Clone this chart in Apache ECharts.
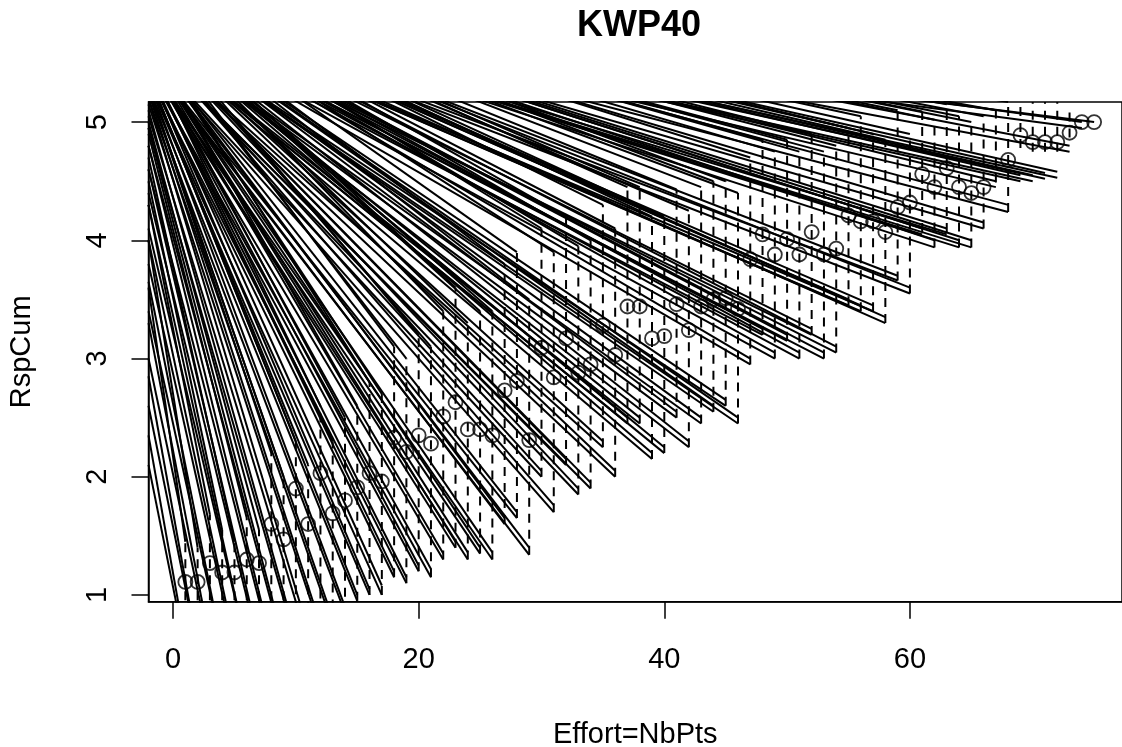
<!DOCTYPE html>
<html>
<head>
<meta charset="utf-8">
<title>KWP40</title>
<script src="https://cdn.jsdelivr.net/npm/echarts@6/dist/echarts.min.js"></script>
<style>
  html, body { margin: 0; padding: 0; background: #fff; }
  #chart { width: 1122px; height: 747px; }
</style>
</head>
<body>
<div id="chart"></div>
<script>
// observed points (Effort, RspCum)
const ptX = [1, 2, 3, 4, 5, 6, 7, 8, 9, 10, 11, 12, 13, 14, 15, 16, 17, 18, 19, 20,
  21, 22, 23, 24, 25, 26, 27, 28, 29, 30, 31, 32, 33, 34, 35, 36, 37, 38, 39, 40,
  41, 42, 43, 44, 45, 46, 47, 48, 49, 50, 51, 52, 53, 54, 55, 56, 57, 58, 59, 60,
  61, 62, 63, 64, 65, 66, 68, 69, 70, 71, 72, 73, 74, 75];
const ptY = [1.11, 1.11, 1.27, 1.19, 1.19, 1.30, 1.27, 1.60, 1.47, 1.90, 1.60, 2.03, 1.69, 1.80, 1.91, 2.03, 1.96, 2.33, 2.21, 2.35,
  2.28, 2.51, 2.63, 2.40, 2.40, 2.35, 2.73, 2.81, 2.31, 3.09, 2.84, 3.17, 2.88, 2.95, 3.28, 3.03, 3.44, 3.44, 3.17, 3.19,
  3.46, 3.24, 3.44, 3.50, 3.51, 3.42, 3.84, 4.05, 3.88, 4.01, 3.88, 4.07, 3.88, 3.93, 4.21, 4.16, 4.16, 4.07, 4.28, 4.32,
  4.56, 4.45, 4.61, 4.45, 4.40, 4.45, 4.68, 4.89, 4.83, 4.83, 4.83, 4.91, 5.00, 5.00];

// dashed vertical ranges
const dashX = [1, 2, 3, 4, 5, 6, 7, 8, 9, 10, 11, 12, 13, 14, 15, 16, 17, 18, 19, 20,
  21, 22, 23, 24, 25, 26, 27, 28, 29, 30, 31, 32, 33, 34, 35, 36, 37, 38, 39, 40,
  41, 42, 43, 44, 45, 46, 47, 48, 49, 50, 51, 52, 53, 54, 55, 56, 57, 58, 59, 60,
  61, 62, 63, 64, 65, 66, 67, 68, 69, 70, 71, 72, 73];
const dashLo = [0.55, 0.55, 0.55, 0.55, 0.55, 0.55, 0.55, 0.55, 0.55, 0.60, 0.60, 0.70, 0.75, 0.85, 0.95, 1.00, 1.00, 1.15, 1.10, 1.20,
  1.15, 1.30, 1.40, 1.30, 1.35, 1.30, 1.60, 1.65, 1.34, 2.00, 1.70, 2.10, 1.85, 1.90, 2.25, 2.00, 2.45, 2.45, 2.15, 2.20,
  2.50, 2.25, 2.45, 2.55, 2.60, 2.45, 2.95, 3.20, 3.00, 3.15, 3.00, 3.20, 3.00, 3.05, 3.45, 3.40, 3.40, 3.30, 3.66, 3.55,
  4.07, 3.94, 4.07, 3.94, 3.94, 4.10, 4.49, 4.24, 4.78, 4.75, 4.75, 4.75, 4.87];
const dashHi = [1.45, 1.40, 1.68, 1.55, 1.45, 1.65, 1.55, 2.20, 2.00, 2.30, 2.10, 2.60, 2.30, 2.50, 2.60, 2.80, 2.70, 3.10, 3.00, 3.20,
  3.10, 3.40, 3.60, 3.30, 3.40, 3.40, 3.80, 3.90, 3.50, 4.10, 3.90, 4.20, 3.95, 4.00, 4.30, 4.10, 4.45, 4.45, 4.20, 4.20,
  4.43, 4.25, 4.45, 4.50, 4.50, 4.40, 4.70, 4.85, 4.75, 4.85, 4.75, 4.90, 4.75, 4.80, 4.95, 5.05, 4.90, 4.85, 5.10, 4.90,
  5.09, 5.02, 5.15, 5.05, 5.00, 5.05, 5.13, 5.17, 5.17, 5.17, 5.17, 5.17, 5.10];

// solid lines: y at the left edge (x = -2) and end point (lineEndX, lineEndY)
const lineEndX = [
  1, 1, 1, 2, 2, 2, 3, 3, 3, 4, 4, 4, 5, 5, 5, 6, 6, 6, 7, 7, 7, 8, 8, 8, 9, 9, 9, 10, 10, 10,
  11, 11, 11, 12, 12, 12, 13, 13, 13, 14, 14, 14, 15, 15, 15, 16, 16, 16, 17, 17, 17, 18, 18, 18, 19, 19, 19, 20, 20, 20,
  21, 21, 21, 22, 22, 22, 23, 23, 23, 24, 24, 24, 25, 25, 25, 26, 26, 26, 27, 27, 27, 28, 28, 28, 29, 29, 29, 30, 30, 30,
  31, 31, 31, 32, 32, 32, 33, 33, 33, 34, 34, 34, 35, 35, 35, 36, 36, 36, 37, 37, 37, 38, 38, 38, 39, 39, 39, 40, 40, 40,
  41, 41, 41, 42, 42, 42, 43, 43, 43, 44, 44, 44, 45, 45, 45, 46, 46, 46, 47, 47, 47, 48, 48, 48, 49, 49, 49, 50, 50, 50,
  51, 51, 51, 52, 52, 52, 53, 53, 53, 54, 54, 54, 55, 55, 55, 56, 56, 56, 57, 57, 57, 58, 58, 58, 59, 59, 59, 60, 60, 60,
  61, 61, 61, 62, 62, 62, 63, 63, 63, 64, 64, 64, 65, 65, 65, 66, 66, 66, 67, 67, 67, 68, 68, 68,
  69, 69, 70, 70, 71, 71, 72, 72, 73, 73, 74, 74, 75
];
const lineEndY = [
  0.55, 0.60, 1.45, 0.55, 0.55, 1.40, 0.55, 0.60, 1.68, 0.55, 0.55, 1.55, 0.55, 0.60, 1.45, 0.55, 0.55, 1.65, 0.55, 0.60, 1.55, 0.55, 0.60, 2.20, 0.55, 0.60, 2.00, 0.60, 0.65, 2.30,
  0.60, 0.70, 2.10, 0.70, 0.75, 2.60, 0.75, 0.80, 2.30, 0.85, 0.90, 2.50, 0.95, 1.00, 2.60, 1.00, 1.05, 2.80, 1.00, 1.08, 2.70, 1.15, 1.20, 3.10, 1.10, 1.15, 3.00, 1.20, 1.25, 3.20,
  1.15, 1.22, 3.10, 1.30, 1.35, 3.40, 1.40, 1.45, 3.60, 1.30, 1.36, 3.30, 1.35, 1.40, 3.40, 1.30, 1.36, 3.40, 1.60, 1.65, 3.80, 1.65, 1.70, 3.90, 1.34, 1.40, 3.50, 2.00, 2.05, 4.10,
  1.70, 1.76, 3.90, 2.10, 2.15, 4.20, 1.85, 1.90, 3.95, 1.90, 1.95, 4.00, 2.25, 2.30, 4.30, 2.00, 2.05, 4.10, 2.45, 2.50, 4.45, 2.45, 2.50, 4.45, 2.15, 2.20, 4.20, 2.20, 2.25, 4.20,
  2.50, 2.55, 4.43, 2.25, 2.30, 4.25, 2.45, 2.50, 4.45, 2.55, 2.60, 4.50, 2.60, 2.65, 4.50, 2.45, 2.50, 4.40, 2.95, 3.00, 4.70, 3.20, 3.25, 4.85, 3.00, 3.05, 4.75, 3.15, 3.20, 4.85,
  3.00, 3.05, 4.75, 3.20, 3.25, 4.90, 3.00, 3.05, 4.75, 3.05, 3.10, 4.80, 3.45, 3.50, 4.95, 3.40, 3.45, 5.05, 3.40, 3.45, 4.90, 3.30, 3.35, 4.85, 3.66, 3.70, 5.10, 3.55, 3.60, 4.90,
  4.05, 4.10, 5.09, 3.94, 4.00, 5.02, 4.05, 4.10, 5.15, 3.94, 4.00, 5.05, 3.94, 4.00, 5.00, 4.10, 4.15, 5.05, 4.45, 4.50, 5.10, 4.24, 4.30, 5.17,
  4.50, 4.55, 4.50, 4.55, 4.52, 4.57, 4.53, 4.58, 4.75, 4.80, 4.95, 5.00, 5.00
];
const lineLeftY = [
  2.10, 2.35, 3.60, 2.60, 2.85, 4.00, 3.00, 3.30, 4.30, 3.40, 3.65, 4.50, 3.80, 4.00, 4.70, 4.10, 4.30, 4.90, 4.40, 4.60, 5.00, 4.60, 4.80, 5.30, 4.80, 4.95, 5.30, 4.95, 5.10, 5.40,
  5.05, 5.20, 5.40, 5.15, 5.25, 5.60, 5.20, 5.30, 5.50, 5.25, 5.35, 5.60, 5.30, 5.40, 5.70, 5.35, 5.45, 5.75, 5.35, 5.45, 5.70, 5.40, 5.50, 5.85, 5.40, 5.50, 5.80, 5.45, 5.55, 5.90,
  5.45, 5.55, 5.85, 5.50, 5.60, 5.95, 5.50, 5.60, 6.00, 5.50, 5.60, 5.90, 5.50, 5.60, 5.95, 5.50, 5.60, 5.95, 5.55, 5.65, 6.05, 5.55, 5.65, 6.10, 5.53, 5.62, 6.00, 5.60, 5.70, 6.15,
  5.60, 5.70, 6.10, 5.65, 5.75, 6.20, 5.65, 5.75, 6.10, 5.65, 5.75, 6.15, 5.70, 5.80, 6.20, 5.70, 5.80, 6.15, 5.75, 5.85, 6.25, 5.75, 5.85, 6.25, 5.75, 5.85, 6.20, 5.75, 5.85, 6.20,
  5.80, 5.90, 6.25, 5.80, 5.90, 6.20, 5.80, 5.90, 6.25, 5.85, 5.95, 6.30, 5.85, 5.95, 6.30, 5.85, 5.95, 6.25, 5.90, 6.00, 6.30, 5.90, 6.00, 6.30, 5.90, 6.00, 6.30, 5.95, 6.05, 6.30,
  5.95, 6.05, 6.30, 5.95, 6.05, 6.30, 5.95, 6.05, 6.30, 6.00, 6.10, 6.30, 6.00, 6.10, 6.35, 6.00, 6.10, 6.35, 6.00, 6.10, 6.35, 6.05, 6.15, 6.30, 6.05, 6.15, 6.40, 6.05, 6.15, 6.35,
  6.10, 6.20, 6.40, 6.10, 6.20, 6.40, 6.10, 6.20, 6.40, 6.10, 6.20, 6.40, 6.10, 6.20, 6.40, 6.15, 6.25, 6.40, 6.15, 6.25, 6.40, 6.15, 6.25, 6.40,
  6.15, 6.25, 6.15, 6.25, 6.20, 6.30, 6.20, 6.30, 6.20, 6.30, 6.00, 6.10, 6.00
];

const LEFT_X = -2;
const xTicks = [0, 20, 40, 60];
const yTicks = [1, 2, 3, 4, 5];

const FONT = 'Liberation Sans, Arial, sans-serif';
const series = [];

lineEndX.forEach((x, i) => {
  series.push({
    type: 'line',
    data: [[LEFT_X, lineLeftY[i]], [x, lineEndY[i]]],
    showSymbol: false,
    silent: true,
    clip: true,
    lineStyle: { color: '#000', width: 2 },
    z: 2,
  });
});

dashX.forEach((x, i) => {
  series.push({
    type: 'line',
    data: [[x, dashLo[i]], [x, dashHi[i]]],
    showSymbol: false,
    silent: true,
    clip: true,
    lineStyle: { color: '#000', width: 2, type: [9, 7] },
    z: 3,
  });
});

series.push({
  type: 'scatter',
  data: ptX.map((x, i) => [x, ptY[i]]),
  symbol: 'circle',
  symbolSize: 14,
  silent: true,
  itemStyle: { color: 'rgba(0,0,0,0)', borderColor: '#000', borderWidth: 1.8 },
  z: 4,
});

const chart = echarts.init(document.getElementById('chart'));
chart.setOption({
  animation: false,
  backgroundColor: '#fff',
  title: {
    text: 'KWP40',
    left: 577,
    top: 8,
    padding: 0,
    textStyle: { fontFamily: FONT, fontSize: 36, fontWeight: 'bold', color: '#000' },
  },
  grid: {
    left: 148.5,
    top: 102,
    right: 0,
    bottom: 145.3,
    outerBoundsMode: 'none',
    containLabel: false,
    show: true,
    borderColor: '#000',
    borderWidth: 1.5,
    backgroundColor: 'transparent',
  },
  xAxis: {
    type: 'value',
    min: -2,
    max: 77.27,
    name: 'Effort=NbPts',
    nameLocation: 'middle',
    nameGap: 119,
    nameTextStyle: { fontFamily: FONT, fontSize: 29, color: '#000' },
    axisLine: { show: true, onZero: false, lineStyle: { color: '#000', width: 1.5 } },
    axisTick: { show: true, customValues: xTicks, length: 17, lineStyle: { color: '#000', width: 1.5 } },
    axisLabel: { customValues: xTicks, fontFamily: FONT, fontSize: 29, color: '#000', margin: 44 },
    splitLine: { show: false },
  },
  yAxis: {
    type: 'value',
    min: 0.943,
    max: 5.17,
    name: 'RspCum',
    nameLocation: 'middle',
    nameGap: 112,
    nameRotate: 90,
    nameTextStyle: { fontFamily: FONT, fontSize: 29, color: '#000' },
    axisLine: { show: true, onZero: false, lineStyle: { color: '#000', width: 1.5 } },
    axisTick: { show: true, customValues: yTicks, length: 17, lineStyle: { color: '#000', width: 1.5 } },
    axisLabel: { customValues: yTicks, rotate: 90, fontFamily: FONT, fontSize: 29, color: '#000', margin: 36 },
    splitLine: { show: false },
  },
  series: series,
});
</script>
</body>
</html>
